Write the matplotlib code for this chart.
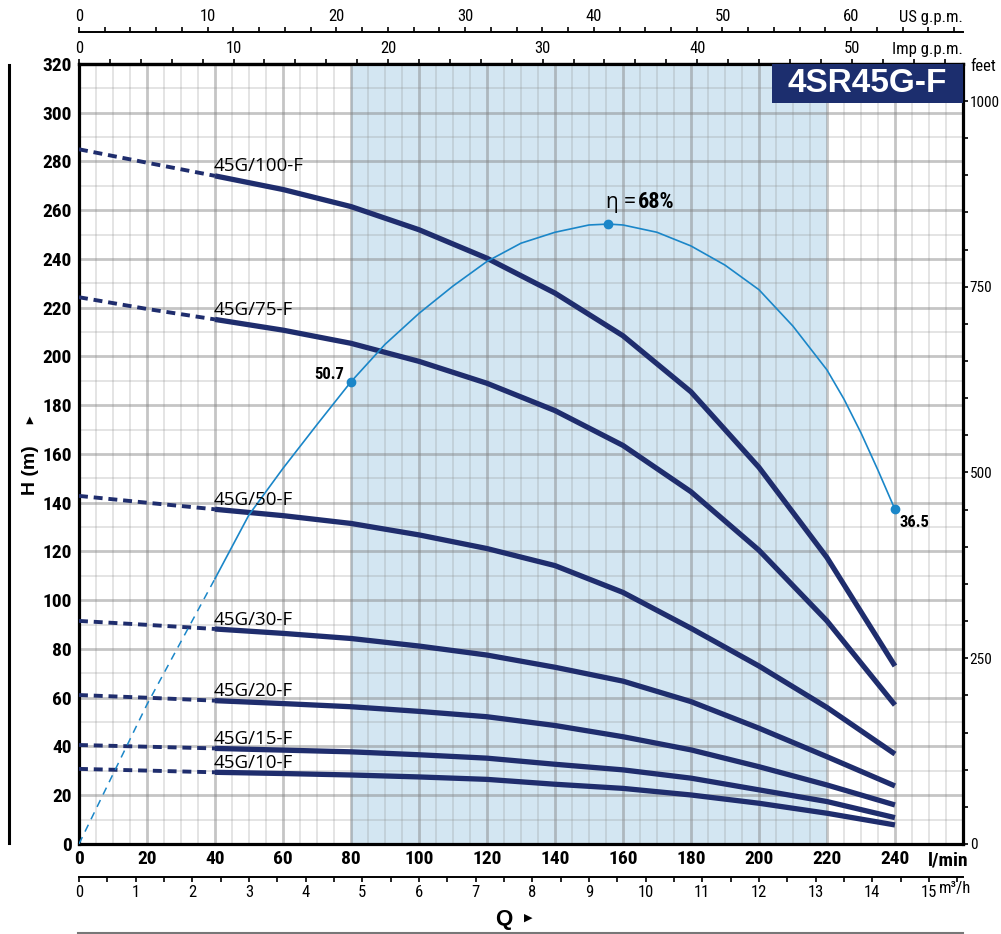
import numpy as np
import matplotlib.pyplot as plt
from matplotlib import font_manager as fm
from matplotlib.patches import Rectangle
from matplotlib.lines import Line2D
from matplotlib.ticker import MultipleLocator, FixedLocator

# pick a condensed sans if one is installed, else Liberation Sans a bit smaller
avail = {f.name for f in fm.fontManager.ttflist}
NARROW, STRETCH, SCALE = 'Liberation Sans', 'normal', 0.88
for n in ['Liberation Sans Narrow', 'Roboto Condensed', 'Open Sans Condensed',
          'Noto Sans Condensed', 'DejaVu Sans Condensed', 'Arial Narrow']:
    if n in avail:
        NARROW, STRETCH, SCALE = n, 'normal', 1.0
        break
else:
    for f in fm.fontManager.ttflist:
        if f.name in ('Noto Sans', 'Open Sans', 'Roboto', 'DejaVu Sans') and 'condensed' in str(f.stretch):
            NARROW, STRETCH, SCALE = f.name, f.stretch, 1.0
            break

plt.rcParams['font.family'] = [NARROW, 'DejaVu Sans']
plt.rcParams['font.stretch'] = STRETCH


def fs(size):
    return size * SCALE


NAVY = '#1f2d6d'
BLUE = '#1a86c8'
TICK = 3.6  # tick length, points

# --- data ---
models = ['45G/100-F', '45G/75-F', '45G/50-F', '45G/30-F', '45G/20-F', '45G/15-F', '45G/10-F']

# extrapolated (dashed) part, l/min
q_dash = [0, 20, 40]
h_dash = [
    [285.0, 279.5, 274.1],
    [224.3, 219.5, 215.2],
    [142.8, 140.0, 137.3],
    [91.5, 89.9, 88.2],
    [61.1, 60.0, 58.8],
    [40.6, 39.9, 39.2],
    [30.8, 30.1, 29.4],
]

# working range (solid), l/min
q_pump = [40, 60, 80, 100, 120, 140, 160, 180, 200, 220, 240]
h_pump = [
    [274.1, 268.5, 261.5, 252.0, 240.3, 226.0, 208.5, 185.5, 154.5, 117.5, 73.0],
    [215.2, 210.8, 205.4, 198.0, 189.0, 177.8, 163.5, 144.5, 120.5, 91.5, 57.0],
    [137.3, 134.7, 131.5, 126.8, 121.2, 114.2, 103.2, 88.5, 73.0, 56.0, 36.9],
    [88.2, 86.4, 84.3, 81.2, 77.5, 72.5, 66.8, 58.4, 47.5, 35.8, 23.8],
    [58.8, 57.6, 56.3, 54.4, 52.2, 48.6, 44.0, 38.6, 31.7, 24.2, 16.0],
    [39.2, 38.5, 37.8, 36.6, 35.2, 32.7, 30.4, 27.0, 22.2, 17.4, 10.8],
    [29.4, 28.9, 28.3, 27.5, 26.5, 24.5, 22.8, 20.1, 16.7, 12.6, 7.8],
]

# efficiency curve (%)
q_eff_dash = [0, 20, 40]
eff_dash = [0.0, 15.3, 29.1]
q_eff = [40, 50, 60, 70, 80, 90, 100, 110, 120, 130, 140, 150, 155.7, 160, 170, 180,
         190, 200, 210, 220, 225, 230, 235, 240]
eff = [29.1, 36.1, 41.2, 46.0, 50.7, 54.8, 58.2, 61.2, 63.9, 65.9, 67.1, 67.9, 68.0, 67.9, 67.1, 65.6,
       63.5, 60.8, 56.8, 52.0, 48.8, 45.1, 41.0, 36.7]
eff_pts_q = [80, 155.7, 240]
eff_pts = [50.7, 68.0, 36.7]
eff_pts_lbl = ['50.7', '68%', '36.5']
EFF_SCALE = 3.74  # metres of head per % on the chart

range_lo, range_hi = 80, 220

fig = plt.figure(figsize=(10.01, 9.34), dpi=100)
ax = fig.add_axes([0.0789, 0.0964, 0.8831, 0.8351])
ax.set_xlim(0, 260)
ax.set_ylim(0, 320)

ax.axvspan(range_lo, range_hi, color='#d3e6f2', zorder=0.2, lw=0)

ax.set_xticks(range(0, 241, 20))
ax.xaxis.set_minor_locator(MultipleLocator(5))
ax.set_yticks(range(0, 321, 20))
ax.yaxis.set_minor_locator(MultipleLocator(10))
ax.set_axisbelow(True)
ax.grid(which='major', color='#7f7f7f', alpha=0.45, lw=2.0)
ax.grid(which='minor', color='#8c8c8c', alpha=0.3, lw=1.1)
ax.tick_params(which='both', length=0)
ax.tick_params(axis='y', pad=5, labelsize=fs(14))
ax.tick_params(axis='x', pad=4, labelsize=fs(14))
plt.setp(ax.get_xticklabels() + ax.get_yticklabels(), fontweight='bold')
for s in ax.spines.values():
    s.set_linewidth(2.3)
    s.set_color('black')

for name, hd, hp in zip(models, h_dash, h_pump):
    ax.plot(q_dash, hd, color=NAVY, lw=2.8, ls=(0, (2.3, 1.5)), zorder=3)
    ax.plot(q_pump, hp, color=NAVY, lw=3.8, solid_capstyle='butt', zorder=3)
    ax.text(q_pump[0] - 0.5, hp[0] + 1.8, name, fontsize=13.5, family=['Open Sans', 'DejaVu Sans'],
            stretch='normal', ha='left', va='baseline', zorder=4)

ax.plot(q_eff_dash, np.array(eff_dash) * EFF_SCALE, color=BLUE, lw=1.1, ls=(0, (5, 4)), zorder=3)
ax.plot(q_eff, np.array(eff) * EFF_SCALE, color=BLUE, lw=1.2, zorder=3)
ax.plot(eff_pts_q, np.array(eff_pts) * EFF_SCALE, 'o', color=BLUE, ms=6, zorder=4)

ax.annotate(eff_pts_lbl[0], (eff_pts_q[0], eff_pts[0] * EFF_SCALE), xytext=(-5, 2),
            textcoords='offset points', ha='right', va='baseline', fontsize=fs(12), fontweight='bold')
ax.annotate(eff_pts_lbl[2], (eff_pts_q[2], eff_pts[2] * EFF_SCALE), xytext=(3.5, -4),
            textcoords='offset points', ha='left', va='top', fontsize=fs(12), fontweight='bold')
t_eta = ax.annotate('η =', (eff_pts_q[1], eff_pts[1] * EFF_SCALE), xytext=(-2, 11.5),
                    textcoords='offset points', ha='left', va='baseline', fontsize=15,
                    family=['Open Sans', 'DejaVu Sans'], stretch='normal')
ax.annotate(eff_pts_lbl[1], xy=(1, 0), xycoords=t_eta, xytext=(2, 0), textcoords='offset points',
            ha='left', va='bottom', fontsize=fs(16), fontweight='bold')

# model box
ax.add_patch(Rectangle((0.784, 0.95), 0.216, 0.05, transform=ax.transAxes,
                       color='#1c2e6e', zorder=5, lw=0))
ax.text(0.892, 0.975, '4SR45G-F', transform=ax.transAxes, color='white', fontsize=24,
        fontweight='bold', family=['Liberation Sans', 'DejaVu Sans'], stretch='normal',
        ha='center', va='center', zorder=6)

# secondary scales
sec_m3h = ax.secondary_xaxis(-0.0423, functions=(lambda q: q * 0.06, lambda m: m / 0.06))
sec_m3h.set_xticks(range(0, 16))
sec_m3h.xaxis.set_minor_locator(FixedLocator(np.arange(0.5, 15.6, 1.0)))
sec_m3h.tick_params(which='both', length=TICK, width=1.2, pad=2.5, labelsize=fs(12))
sec_m3h.spines['bottom'].set_linewidth(1.4)

imp = ax.secondary_xaxis('top', functions=(lambda q: q / 4.54609, lambda g: g * 4.54609))
imp.set_xticks(range(0, 51, 10))
imp.xaxis.set_minor_locator(FixedLocator(np.arange(2, 57, 2)))
imp.tick_params(which='both', length=TICK, width=1.2, pad=2.5, labelsize=fs(12))
imp.spines['top'].set_linewidth(2.3)

usg = ax.secondary_xaxis(1.041, functions=(lambda q: q / 3.78541, lambda g: g * 3.78541))
usg.set_xticks(range(0, 61, 10))
usg.xaxis.set_minor_locator(FixedLocator(np.arange(2, 69, 2)))
usg.tick_params(which='both', length=TICK, width=1.2, pad=2.5, labelsize=fs(12))
usg.spines['top'].set_linewidth(1.4)

feet = ax.secondary_yaxis('right', functions=(lambda h: h * 3.28084, lambda f: f / 3.28084))
feet.set_yticks(range(0, 1001, 250))
feet.yaxis.set_minor_locator(FixedLocator(np.arange(50, 1001, 50)))
feet.tick_params(which='both', length=TICK, width=1.2, pad=1.2, labelsize=fs(11))

# unit labels
fig.text(0.927, 0.0792, 'l/min', fontsize=fs(14), fontweight='bold', ha='left', va='center')
fig.text(0.938, 0.0482, 'm³/h', fontsize=fs(12), ha='left', va='center')
fig.text(0.962, 0.981, 'US g.p.m.', fontsize=fs(12), ha='right', va='center')
fig.text(0.962, 0.9475, 'Imp g.p.m.', fontsize=fs(12), ha='right', va='center')
fig.text(0.969, 0.929, 'feet', fontsize=fs(12), ha='left', va='center')

fig.text(0.503, 0.016, 'Q', fontsize=16, fontweight='bold', ha='center', va='center',
         family=['Liberation Sans', 'DejaVu Sans'], stretch='normal')
fig.text(0.528, 0.017, '▶', fontsize=8, family='DejaVu Sans', ha='center', va='center')
fig.text(0.030, 0.497, 'H (m)', fontsize=14, fontweight='bold', rotation=90, ha='center', va='center',
         family=['Liberation Sans', 'DejaVu Sans'], stretch='normal')
fig.text(0.030, 0.551, '▲', fontsize=7, family='DejaVu Sans', ha='center', va='center')

fig.add_artist(Line2D([0.009, 0.009], [1 - 65 / 934, 1 - 843 / 934], color='black', lw=2.2))
fig.add_artist(Line2D([78 / 1001, 963 / 1001], [1 - 932.5 / 934] * 2, color='#777777', lw=1.5))

fig.savefig('out.png', dpi=100)
